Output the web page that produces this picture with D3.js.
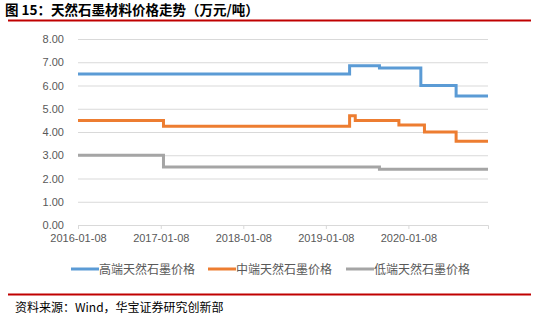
<!DOCTYPE html>
<html>
<head>
<meta charset="utf-8">
<script src="https://cdn.jsdelivr.net/npm/d3@7"></script>
<style>
  body { margin: 0; background: #fff; }
  svg { display: block; }
</style>
</head>
<body>
<div id="chart"></div>
<script>
// ------- Data -------
const yTicks = [0, 1, 2, 3, 4, 5, 6, 7, 8];
const xTicks = ["2016-01-08", "2017-01-08", "2018-01-08", "2019-01-08", "2020-01-08"];

const highDates = ["2016-01-08", "2019-04-23", "2019-09-02", "2020-03-03", "2020-08-06", "2020-12-25"];
const highValues = [6.5, 6.85, 6.75, 6.0, 5.55, 5.55];

const midDates = ["2016-01-08", "2017-01-20", "2019-04-23", "2019-05-18", "2019-11-27", "2020-03-19", "2020-08-06", "2020-12-25"];
const midValues = [4.5, 4.25, 4.7, 4.5, 4.3, 4.0, 3.6, 3.6];

const lowDates = ["2016-01-08", "2017-01-20", "2019-09-02", "2020-12-25"];
const lowValues = [3.0, 2.5, 2.4, 2.4];

const seriesNames = ["高端天然石墨价格", "中端天然石墨价格", "低端天然石墨价格"];
const seriesColors = ["#5B9BD5", "#ED7D31", "#A5A5A5"];

// ------- Chart -------
const parse = d3.timeParse("%Y-%m-%d");
const series = [
  highDates.map((d, i) => ({date: parse(d), value: highValues[i]})),
  midDates.map((d, i) => ({date: parse(d), value: midValues[i]})),
  lowDates.map((d, i) => ({date: parse(d), value: lowValues[i]}))
];

let width = 542, height = 315;
let svg = d3.select("#chart").append("svg")
    .attr("width", width)
    .attr("height", height)

let cjk = "'Noto Sans CJK SC', 'Noto Sans', sans-serif";

// title + red rules
svg.append("text")
   .attr("x", 5).attr("y", 14.5)
   .attr("font-family", cjk).attr("font-size", 13.5).attr("font-weight", "bold")
   .attr("fill", "#000")
   .text("图 15：天然石墨材料价格走势（万元/吨）")
svg.append("line").attr("x1", 8).attr("x2", 531).attr("y1", 20.5).attr("y2", 20.5)
   .attr("stroke", "#C00000").attr("stroke-width", 2)
svg.append("line").attr("x1", 8).attr("x2", 531).attr("y1", 294.5).attr("y2", 294.5)
   .attr("stroke", "#C00000").attr("stroke-width", 2)
svg.append("text")
   .attr("x", 15).attr("y", 311.5)
   .attr("font-family", cjk).attr("font-size", 12)
   .attr("fill", "#000")
   .text("资料来源：Wind，华宝证券研究创新部")

let xScale = d3.scaleTime()
               .domain([parse("2016-01-08"), parse("2020-12-25")])
               .range([78, 488])
let yScale = d3.scaleLinear()
               .domain([0, 8])
               .range([225, 39])

// gridlines + y labels
let yAxis = svg.append("g")
   .attr("transform", "translate(78,0)")
   .call(d3.axisLeft(yScale).tickValues(yTicks).tickFormat(d3.format(".2f")).tickSize(-410).tickPadding(14))
yAxis.select(".domain").remove()
yAxis.selectAll("line").attr("stroke", "#D9D9D9")
yAxis.selectAll("text").attr("fill", "#595959").attr("font-size", 11)
     .attr("font-family", "'Liberation Sans', Arial, sans-serif")

// x axis
let xAxis = svg.append("g")
   .attr("transform", "translate(0,225)")
   .call(d3.axisBottom(xScale).tickValues(xTicks.map(parse)).tickFormat(d3.timeFormat("%Y-%m-%d")).tickSizeOuter(0).tickSize(4).tickPadding(5))
xAxis.select(".domain").attr("stroke", "#D9D9D9")
xAxis.selectAll("line").attr("stroke", "#D9D9D9")
xAxis.selectAll("text").attr("fill", "#595959").attr("font-size", 11)
     .attr("font-family", "'Liberation Sans', Arial, sans-serif")

// step lines
let line = d3.line()
             .x(d => xScale(d.date))
             .y(d => yScale(d.value))
             .curve(d3.curveStepAfter)

svg.selectAll(".series")
   .data(series)
   .enter()
   .append("path")
   .attr("class", "series")
   .attr("d", line)
   .attr("fill", "none")
   .attr("stroke", (d, i) => seriesColors[i])
   .attr("stroke-width", 3)

// legend
let legendX = [71, 208, 346];
let legend = svg.selectAll(".legend")
   .data(seriesNames)
   .enter()
   .append("g")
   .attr("class", "legend")
   .attr("transform", (d, i) => "translate(" + legendX[i] + ",269)")
legend.append("line")
      .attr("x1", 0).attr("x2", 28).attr("y1", 0).attr("y2", 0)
      .attr("stroke", (d, i) => seriesColors[i]).attr("stroke-width", 3)
legend.append("text")
      .attr("x", 28).attr("y", 4.5)
      .attr("font-family", cjk).attr("font-size", 12)
      .attr("fill", "#595959")
      .text(d => d)
</script>
</body>
</html>
